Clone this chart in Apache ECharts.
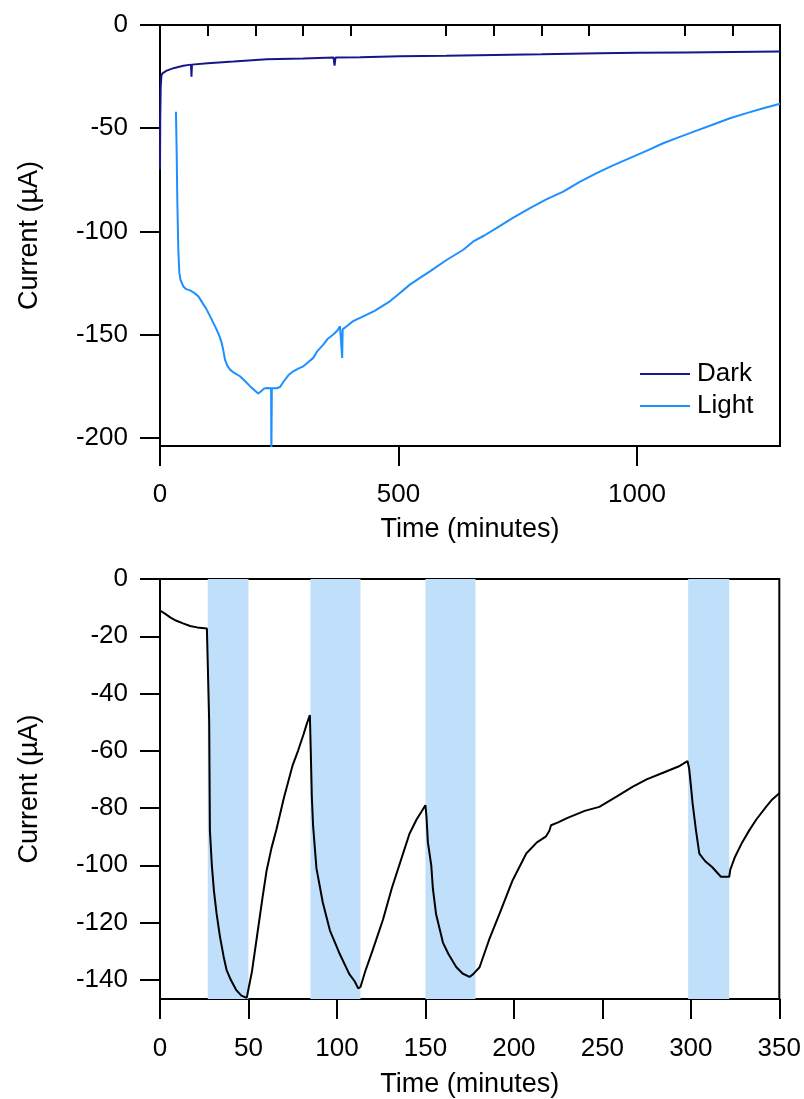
<!DOCTYPE html>
<html>
<head>
<meta charset="utf-8">
<script src="https://cdn.jsdelivr.net/npm/echarts@6/dist/echarts.min.js"></script>
<style>
html,body{margin:0;padding:0;background:#fff;}
#chart{width:804px;height:1099px;}
</style>
</head>
<body>
<div id="chart"></div>
<script>
// ---------- DATA ----------
const darkSeriesName = 'Dark';
const lightSeriesName = 'Light';
const darkData = [
  [0,-70],[0.5,-45],[1.5,-30],[3,-24.5],[5,-23.4],[14,-22.1],[30,-20.8],[49,-19.7],
  [65,-19.2],[66,-25],[67,-19.2],[100,-18.5],[154,-17.7],[224,-16.6],[300,-16.2],
  [364,-15.8],[366,-19.7],[368,-15.8],[420,-15.6],[503,-15.2],[600,-14.9],[700,-14.5],
  [800,-14.2],[922,-13.7],[1000,-13.5],[1100,-13.3],[1200,-13.1],[1300,-12.9]
];
const lightData = [
  [33.5,-42],[35,-62],[36.3,-85],[38.4,-109],[40.5,-120],[43,-123.5],[48.9,-126.7],
  [55,-128],[62.9,-128.6],[70,-129.5],[80.5,-131.5],[90,-135],[97.9,-137.9],[108,-142.5],
  [118.8,-147.6],[125,-151],[129.3,-154],[133,-158],[136.3,-162.2],[141,-165],[146.8,-167],
  [155,-168.5],[167.7,-170.2],[178,-172.5],[188.7,-175],[198,-177],[206,-178.6],[212,-177.5],
  [218,-176.2],[223.6,-175.9],[233,-176],[233.5,-210],[234.5,-176],[245,-176],[251.6,-175.4],
  [260,-172.5],[270,-169.5],[279.5,-167.8],[290,-166.5],[300.5,-165.4],[310,-163.5],
  [321.4,-161.3],[330,-158],[342.4,-154.9],[352,-152],[363.3,-150],[372,-148],[377.4,-146],
  [380,-146.8],[382,-161.3],[383,-147.5],[391.3,-146],[405,-143.5],[426,-141.2],[450,-138.5],
  [482,-133.9],[500,-130.5],[524,-125.8],[545,-122.5],[566,-119.4],[600,-114],[636,-108.9],
  [657,-104.9],[680,-102],[705.5,-98.4],[740,-93.5],[775.7,-88.7],[810,-84.5],[845.5,-80.7],
  [880,-76],[915.5,-71.8],[950,-68],[985,-64.5],[1020,-61],[1055,-57.3],[1090,-54.2],
  [1125,-51.2],[1160,-48.2],[1195,-45.2],[1230,-42.7],[1265,-40.3],[1300,-38.2]
];
const cycleData = [
  [0,-11],[3,-12.2],[6,-13.5],[9,-14.5],[13,-15.5],[17,-16.4],[21,-16.9],[26.5,-17.3],
  [27.2,-17.5],[27.8,-50],[28.2,-87.8],[29.3,-100],[30.5,-109],[32,-117],[33.9,-125],
  [36,-132],[37.6,-136.5],[40,-140],[43,-143.5],[46,-145.5],[49,-146.3],[50,-146],
  [52,-137],[55,-124],[58,-111],[60.2,-102],[63,-94],[65.8,-87.5],[70,-76.5],[75,-65],
  [78,-60],[81,-54.5],[83,-50.5],[84.7,-47.5],[85.2,-60],[85.8,-76],[86.5,-86],[88.4,-101],
  [92,-113],[96,-122.7],[101.6,-131],[107,-138],[110,-140.5],[112,-143],[113.3,-142.5],
  [116,-137],[120,-130],[126,-119],[131,-108],[137.3,-96],[141,-89],[145,-84],[148,-81],
  [150,-79],[150.6,-83],[151.4,-92],[153.3,-100],[154.2,-108],[156,-117],[159.9,-127],
  [163,-131],[167.4,-135.5],[171,-137.8],[174.9,-139],[177,-138],[180.6,-135.6],[186,-126],
  [191.9,-116.9],[199.3,-105.2],[207,-95.9],[213,-92],[218,-90],[220,-88],[221,-86],
  [225,-85],[230,-83.5],[240,-81],[248.3,-79.6],[258,-76],[267,-72.6],[275,-70],[285,-67.5],
  [293,-65.5],[298.1,-63.6],[299,-66],[300,-72],[301,-78.4],[302.9,-87.8],[304.8,-95.9],
  [308,-98.5],[312,-100.6],[317,-104],[321.7,-104],[322.3,-101.5],[325,-97],[329,-92],
  [333,-87.8],[337,-84],[342.5,-79.6],[346,-77],[350,-74.8]
];
const lightBands = [[27,50],[85,113.3],[150,178.3],[298.5,321.7]];

const topXMajorTicks = [0,500,1000];
const topXMinorTicks = [100,200,300,400,600,700,800,900,1100,1200,1300];
const topYTicks = [-200,-150,-100,-50,0];
const bottomXTicks = [0,50,100,150,200,250,300,350];
const bottomYTicks = [-140,-120,-100,-80,-60,-40,-20,0];

const xTitle = 'Time (minutes)';
const yTitle = 'Current (\u00B5A)';

// ---------- CHART ----------
const FONT = '"Liberation Sans", Arial, Helvetica, sans-serif';
const FS = 26;
const chart = echarts.init(document.getElementById('chart'), null, {renderer:'canvas'});

const lineAx = {show:true, onZero:false, lineStyle:{color:'#000', width:2}};
const lbl = (vals, margin) => ({show:true, customValues: vals, color:'#000', fontSize:FS, fontFamily:FONT,
  margin:margin, formatter:(v) => String(v)});
const tck = (vals, len) => ({show:true, customValues: vals, length:len, lineStyle:{color:'#000', width:2}});
const nameStyle = {color:'#000', fontSize:27, fontFamily:FONT};

const option = {
  animation:false,
  backgroundColor:'#fff',
  textStyle:{fontFamily:FONT},
  grid:[
    {left:160, right:24, top:25, height:421, show:true, borderColor:'#000', borderWidth:2, backgroundColor:'transparent'},
    {left:160, right:24, top:579, height:422, show:true, borderColor:'#000', borderWidth:2, backgroundColor:'transparent'}
  ],
  legend:{
    data:[darkSeriesName, lightSeriesName],
    orient:'vertical', left:635, top:356,
    icon:'rect', itemWidth:50, itemHeight:2, itemGap:6,
    textStyle:{fontSize:FS, color:'#000', fontFamily:FONT, padding:[0,0,0,2]}
  },
  xAxis:[
    {gridIndex:0, type:'value', min:0, max:1300, interval:500,
     axisLine:lineAx, axisTick:tck(topXMajorTicks,20), axisLabel:lbl(topXMajorTicks,36), splitLine:{show:false},
     name:xTitle, nameLocation:'middle', nameGap:70, nameTextStyle:nameStyle},
    {gridIndex:0, type:'value', min:0, max:1300, interval:500, position:'bottom',
     axisLine:{show:false}, axisTick:tck(topXMinorTicks,11), axisLabel:{show:false}, splitLine:{show:false}},
    {gridIndex:1, type:'value', min:0, max:350, interval:50,
     axisLine:lineAx, axisTick:tck(bottomXTicks,20), axisLabel:lbl(bottomXTicks,37), splitLine:{show:false},
     name:xTitle, nameLocation:'middle', nameGap:72, nameTextStyle:nameStyle}
  ],
  yAxis:[
    {gridIndex:0, type:'value', min:-204, max:0,
     axisLine:lineAx, axisTick:tck(topYTicks,20), axisLabel:lbl(topYTicks,32), splitLine:{show:false},
     name:yTitle, nameLocation:'middle', nameGap:117, nameTextStyle:nameStyle},
    {gridIndex:1, type:'value', min:-146.7, max:0,
     axisLine:lineAx, axisTick:tck(bottomYTicks,20), axisLabel:lbl(bottomYTicks,32), splitLine:{show:false},
     name:yTitle, nameLocation:'middle', nameGap:117, nameTextStyle:nameStyle}
  ],
  series:[
    {name:darkSeriesName, type:'line', xAxisIndex:0, yAxisIndex:0, data:darkData, symbol:'none',
     lineStyle:{color:'#17178a', width:2}, itemStyle:{color:'#17178a'}, z:3},
    {name:lightSeriesName, type:'line', xAxisIndex:0, yAxisIndex:0, data:lightData, symbol:'none',
     lineStyle:{color:'#1e8fff', width:2}, itemStyle:{color:'#1e8fff'}, z:3},
    {name:'cycle', type:'line', xAxisIndex:2, yAxisIndex:1, data:cycleData, symbol:'none',
     lineStyle:{color:'#000', width:2}, itemStyle:{color:'#000'}, z:3,
     markArea:{silent:true, itemStyle:{color:'#bfdffb'},
       data: lightBands.map(b => [{xAxis:b[0]},{xAxis:b[1]}])}}
  ]
};
chart.setOption(option);
</script>
</body>
</html>
